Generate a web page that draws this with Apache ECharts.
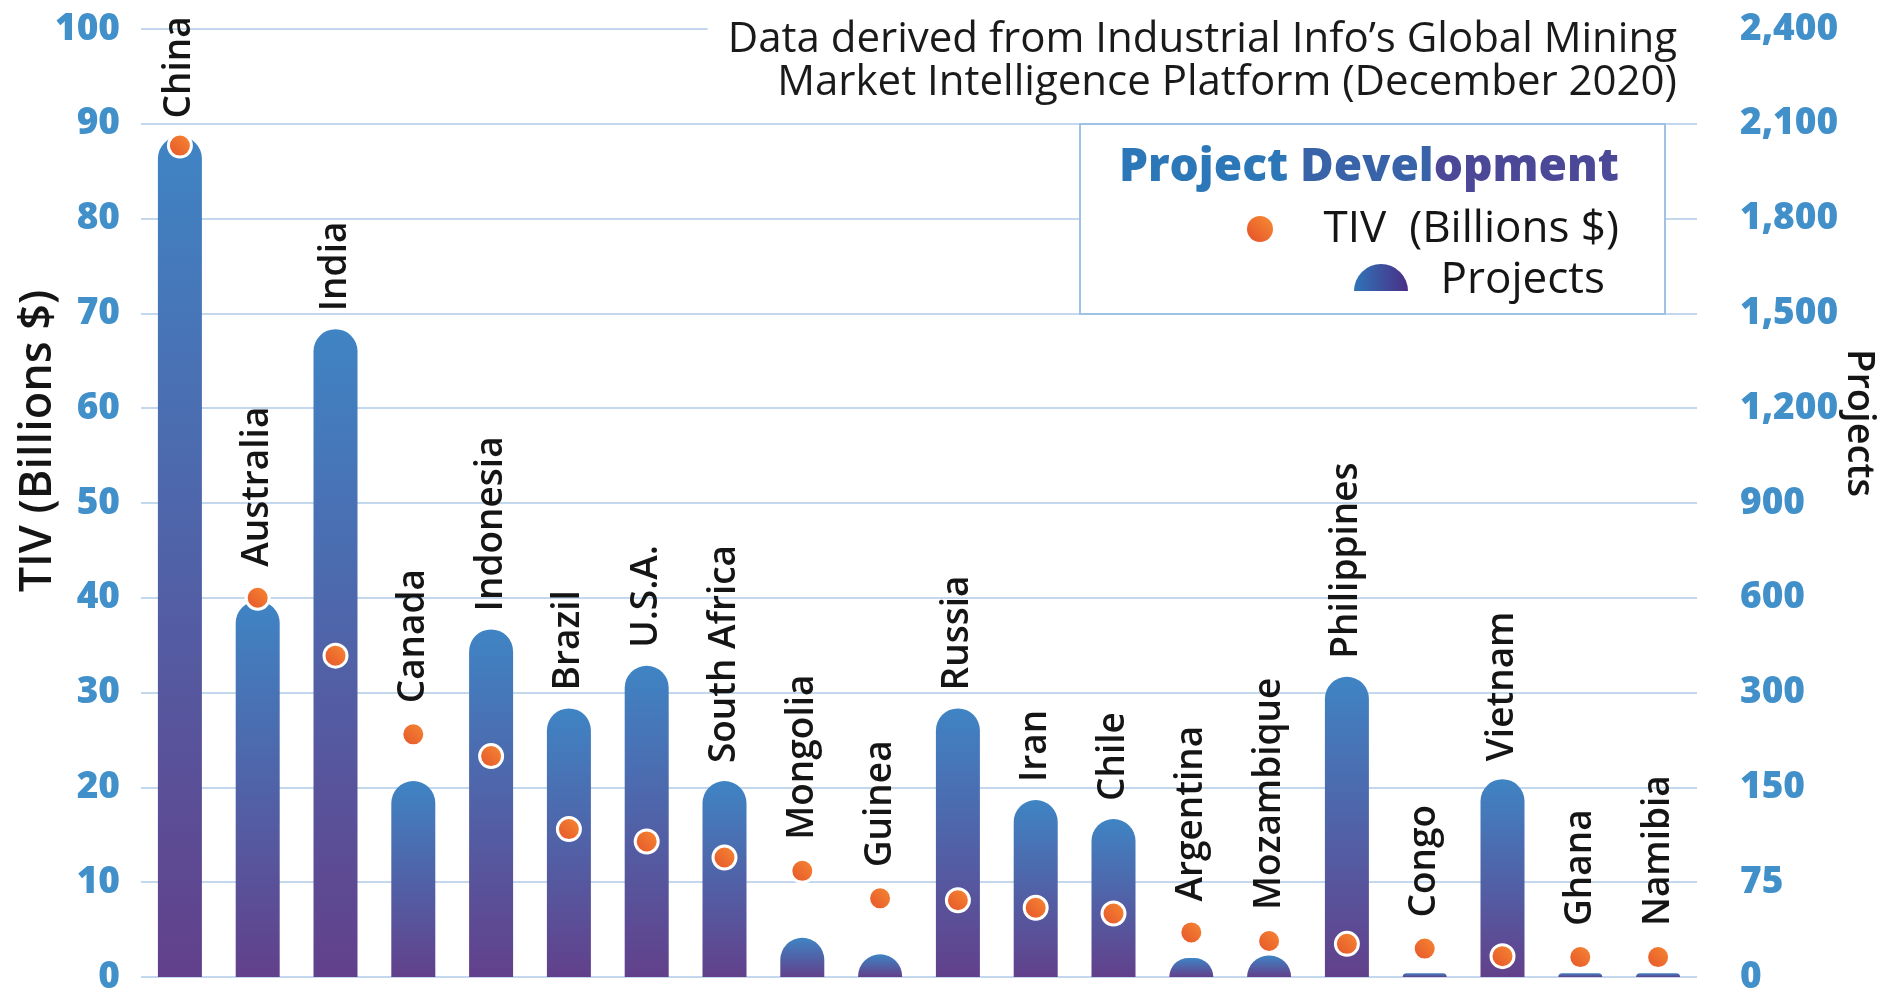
<!DOCTYPE html>
<html>
<head>
<meta charset="utf-8">
<script src="https://cdn.jsdelivr.net/npm/echarts@6/dist/echarts.min.js"></script>
<style>
  html, body { margin: 0; padding: 0; background: #ffffff; }
  #chart { width: 1885px; height: 1001px; }
</style>
</head>
<body>
<div id="chart"></div>
<script>
// Countries, ordered as on the x axis
const countries = ['China', 'Australia', 'India', 'Canada', 'Indonesia', 'Brazil', 'U.S.A.',
  'South Africa', 'Mongolia', 'Guinea', 'Russia', 'Iran', 'Chile', 'Argentina', 'Mozambique',
  'Philippines', 'Congo', 'Vietnam', 'Ghana', 'Namibia'];

// Total investment value, billions of US dollars (left axis)
const tivBillions = [87.7, 40.0, 33.9, 25.6, 23.3, 15.6, 14.3, 12.6, 11.2, 8.3,
  8.1, 7.3, 6.7, 4.7, 3.8, 3.5, 3.0, 2.2, 2.1, 2.1];

// Number of projects (right axis)
const projectCounts = [2060, 590, 1450, 160, 500, 275, 385, 160, 31, 18,
  275, 140, 125, 15, 17, 350, 3, 163, 3, 3];

// Right-axis tick labels; the project scale is stepped, one label per left-axis gridline
const projectTicks = [0, 75, 150, 300, 600, 900, 1200, 1500, 1800, 2100, 2400];
const tivMax = 100;
const tivStep = 10;

// Project count -> position on the shared 0..100 axis, following the stepped tick scale
function projectsToAxis(p) {
  for (let i = 0; i < projectTicks.length - 1; i++) {
    const a = projectTicks[i], b = projectTicks[i + 1];
    if (p <= b) return (i + (p - a) / (b - a)) * tivStep;
  }
  return tivMax;
}

const FONT = "'Open Sans', 'Noto Sans', sans-serif";
const BLUE = '#4290ca';

const countryLabel = {
  show: true,
  rotate: 90,
  align: 'left',
  verticalAlign: 'middle',
  fontFamily: FONT,
  fontSize: 37,
  fontWeight: 600,
  color: '#151515',
  formatter: p => countries[p.dataIndex]
};

const barData = projectCounts.map((p, i) => {
  const v = projectsToAxis(p);
  const labelHere = v >= tivBillions[i];
  return { value: v, label: Object.assign({}, countryLabel, { show: labelHere, position: 'top', distance: 18 }) };
});

const dotData = tivBillions.map((t, i) => {
  const labelHere = t > projectsToAxis(projectCounts[i]);
  return { value: t, label: Object.assign({}, countryLabel, { show: labelHere, position: 'top', distance: 18 }) };
});

const barGradient = new echarts.graphic.LinearGradient(0, 0, 0, 1, [
  { offset: 0, color: '#3f84c4' },
  { offset: 1, color: '#62408b' }
]);
const dotGradient = new echarts.graphic.LinearGradient(1, 0, 0, 1, [
  { offset: 0, color: '#f78d33' },
  { offset: 1, color: '#e4502a' }
]);

const chart = echarts.init(document.getElementById('chart'), null, { renderer: 'canvas' });

const titleFont = `800 46px ${FONT}`;
const legendFont = `500 44px ${FONT}`;

chart.setOption({
  backgroundColor: '#ffffff',
  animation: false,
  grid: { left: 141, right: 188, top: 29, bottom: 24, containLabel: false, outerBoundsMode: 'none' },
  xAxis: {
    type: 'category',
    data: countries,
    axisLine: { show: false },
    axisTick: { show: false },
    axisLabel: { show: false },
    splitLine: { show: false }
  },
  yAxis: [
    {
      type: 'value',
      min: 0, max: tivMax, interval: tivStep,
      position: 'left',
      axisLine: { show: false },
      axisTick: { show: false },
      axisLabel: { margin: 21, color: BLUE, fontFamily: FONT, fontSize: 37, fontWeight: 800 },
      splitLine: { show: true, lineStyle: { color: '#c3d8ec', width: 2 } }
    },
    {
      type: 'value',
      min: 0, max: tivMax, interval: tivStep,
      position: 'right',
      axisLine: { show: false },
      axisTick: { show: false },
      splitLine: { show: false },
      axisLabel: {
        margin: 43, color: BLUE, fontFamily: FONT, fontSize: 37, fontWeight: 800,
        formatter: v => projectTicks[Math.round(v / tivStep)].toLocaleString('en-US')
      }
    }
  ],
  series: [
    {
      name: 'Projects',
      type: 'bar',
      yAxisIndex: 1,
      barWidth: 44,
      data: barData,
      itemStyle: { color: barGradient, borderRadius: [22, 22, 0, 0] },
      z: 2
    },
    {
      name: 'TIV (Billions $)',
      type: 'scatter',
      yAxisIndex: 0,
      data: dotData,
      symbol: 'circle',
      symbolSize: 23,
      itemStyle: { color: dotGradient, borderColor: '#ffffff', borderWidth: 3, opacity: 1 },
      z: 3
    }
  ],
  graphic: [
    // source note, top right
    {
      type: 'text', z: 50,
      style: {
        x: 1697, y: 19, align: 'right', verticalAlign: 'top',
        text: 'Data derived from Industrial Info’s Global Mining\nMarket Intelligence Platform (December 2020)',
        font: `400 42px ${FONT}`, lineHeight: 43, fill: '#1a1a1a',
        backgroundColor: '#ffffff', padding: [0, 20, 0, 20]
      }
    },
    // legend box
    {
      type: 'rect', z: 50,
      shape: { x: 1080, y: 124, width: 585, height: 190 },
      style: { fill: '#ffffff', stroke: '#9fc2e4', lineWidth: 2 }
    },
    {
      type: 'text', z: 51,
      style: {
        x: 1619, y: 168, align: 'right', verticalAlign: 'middle',
        text: '{a|Project} {b|Devel}{c|opment}',
        font: titleFont,
        rich: {
          a: { font: titleFont, fill: '#2c77b8' },
          b: { font: titleFont, fill: '#3863a9' },
          c: { font: titleFont, fill: '#4b4898' }
        }
      }
    },
    {
      type: 'circle', z: 51,
      shape: { cx: 1260, cy: 229, r: 13 },
      style: { fill: dotGradient }
    },
    {
      type: 'text', z: 51,
      style: {
        x: 1619, y: 229, align: 'right', verticalAlign: 'middle',
        text: 'TIV  (Billions $)', font: legendFont, fill: '#151515'
      }
    },
    {
      type: 'sector', z: 51,
      shape: { cx: 1381, cy: 291, r: 27, r0: 0, startAngle: Math.PI, endAngle: Math.PI * 2, clockwise: true },
      style: {
        fill: new echarts.graphic.LinearGradient(0, 0, 1, 0, [
          { offset: 0, color: '#2f74b7' }, { offset: 1, color: '#4a2f86' }
        ])
      }
    },
    {
      type: 'text', z: 51,
      style: {
        x: 1605, y: 280, align: 'right', verticalAlign: 'middle',
        text: 'Projects', font: legendFont, fill: '#151515'
      }
    },
    // axis titles
    {
      type: 'text', z: 50, x: 38, y: 441, rotation: Math.PI / 2,
      style: {
        x: 0, y: 0, align: 'center', verticalAlign: 'middle',
        text: 'TIV (Billions $)', font: `600 45px ${FONT}`, fill: '#151515'
      }
    },
    {
      type: 'text', z: 50, x: 1859, y: 423, rotation: -Math.PI / 2,
      style: {
        x: 0, y: 0, align: 'center', verticalAlign: 'middle',
        text: 'Projects', font: `600 38px ${FONT}`, fill: '#151515'
      }
    }
  ]
});
</script>
</body>
</html>
